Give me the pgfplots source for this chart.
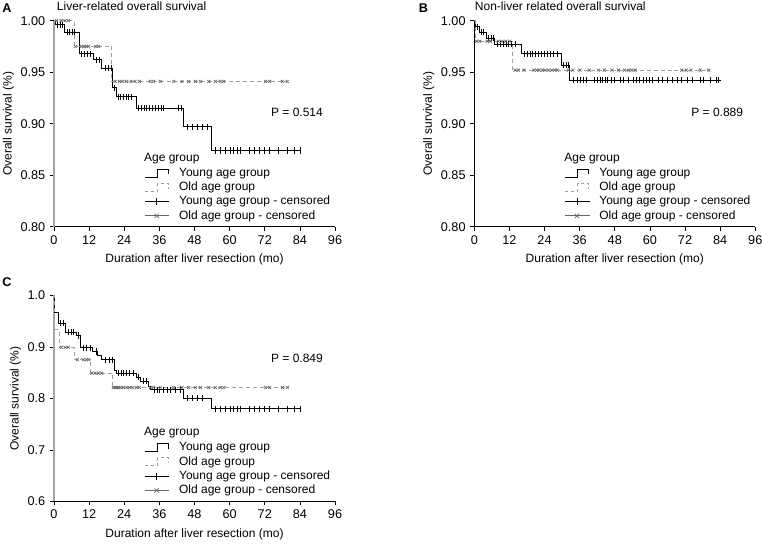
\documentclass[border=0pt]{standalone}
\usepackage{pgfplots}
\pgfplotsset{compat=1.18}
\usepackage{fontspec}
\setmainfont{Liberation Sans}

% Kaplan-Meier panels, 1px of the reference = 0.75pt
\pgfplotsset{
  km/.style={
    scale only axis, width=210.75pt, height=154.5pt,
    anchor=south west,
    axis lines*=left, axis line style={-},
    xmin=0, xmax=96, xtick={0,12,...,96},
    tick align=outside, major tick length=3pt,
    tick style={black, line width=0.5pt},
    ticklabel style={font=\fontsize{9.5}{11}\selectfont},
    /pgf/number format/assume math mode=true,
    xlabel={Duration after liver resection (mo)},
    ylabel={Overall survival (\%)},
    label style={font=\fontsize{9}{11}\selectfont},
    xlabel style={yshift=-0.5pt},
    ylabel style={yshift=-2pt},
    clip=false,
    legend style={draw=none, fill=none, inner sep=0pt, anchor=north west,
      font=\fontsize{9}{10}\selectfont,
      nodes={inner sep=0.6pt}, row sep=1.5pt,
      /tikz/every odd column/.append style={column sep=6.5pt}},
    legend cell align=left,
  },
  young/.style={const plot, black, line width=0.6pt, forget plot},
  old/.style={const plot, gray!75, line width=0.6pt, dash pattern=on 3pt off 2.2pt, forget plot},
  youngc/.style={only marks, mark=|, mark size=2.3pt, black, mark options={line width=0.5pt}, forget plot},
  oldc/.style={only marks, mark=x, mark size=1.6pt, gray!80!black, mark options={line width=0.5pt}, forget plot},
}
\newcommand{\kmlegend}{%
  \addlegendimage{legend image code/.code={\draw[black, line width=0.6pt] (0pt,-3pt) -- (9.5pt,-3pt) -- (9.5pt,3pt) -- (18pt,3pt) -- (18pt,-1pt);}}
  \addlegendimage{legend image code/.code={\draw[gray!75, line width=0.6pt, dash pattern=on 2.5pt off 2pt] (0pt,-3pt) -- (9.5pt,-3pt) -- (9.5pt,3pt) -- (18pt,3pt) -- (18pt,-1pt);}}
  \addlegendimage{legend image code/.code={\draw[black, line width=0.6pt] (0pt,0pt) -- (18.5pt,0pt); \draw[black, line width=0.5pt] (9pt,-2.5pt) -- (9pt,2.5pt);}}
  \addlegendimage{legend image code/.code={\draw[gray!80!black, line width=0.6pt] (0pt,0pt) -- (18.5pt,0pt); \draw[gray!80!black, line width=0.5pt] (7.5pt,-1.6pt) -- (10.7pt,1.6pt) (7.5pt,1.6pt) -- (10.7pt,-1.6pt);}}
  \legend{Young age group, Old age group, Young age group - censored, Old age group - censored}
}

\begin{document}
\begin{tikzpicture}
\path[use as bounding box] (0pt,0pt) rectangle (571.5pt,-407.25pt);

% ---------------- A ----------------
\begin{axis}[km, name=a, at={(40.5pt,-170pt)},
  ymin=0.80, ymax=1.00, ytick={0.80,0.85,...,1.00},
  yticklabel style={/pgf/number format/.cd, fixed, fixed zerofill, precision=2},
  y axis line style={gray!70, line width=1pt},
  legend style={at={(axis description cs:0.320,0.290)}}]
\addplot[young] coordinates {(0,1) (0.4,0.996) (3.4,0.989) (8.7,0.968) (13.4,0.962)
  (16.3,0.954) (20.0,0.935) (21.4,0.926) (28.0,0.915) (44.1,0.897) (53.9,0.874) (84.2,0.874)};
\addplot[old] coordinates {(0,1) (6.8,0.975) (19.7,0.941) (80.3,0.941)};
\addplot[youngc] coordinates {(1.1,0.996) (2.0,0.996) (2.8,0.996)
  (4.5,0.989) (5.4,0.989) (6.2,0.989) (7.1,0.989)
  (9.5,0.968) (10.4,0.968) (11.4,0.968) (12.5,0.968)
  (14.5,0.962) (15.4,0.962) (17.5,0.954) (18.6,0.954) (19.5,0.954) (20.5,0.935)
  (21.9,0.926) (22.8,0.926) (23.7,0.926) (24.6,0.926) (25.5,0.926) (26.4,0.926)
  (28.9,0.915) (29.8,0.915) (30.8,0.915) (31.7,0.915) (32.6,0.915) (33.7,0.915)
  (34.6,0.915) (35.5,0.915) (36.5,0.915) (37.4,0.915) (42.6,0.915) (43.4,0.915)
  (45.4,0.897) (47.1,0.897) (48.9,0.897) (50.6,0.897) (52.3,0.897)
  (55.1,0.874) (56.8,0.874) (58.6,0.874) (60.3,0.874) (61.4,0.874) (62.6,0.874)
  (63.7,0.874) (66.6,0.874) (68.3,0.874) (70.0,0.874) (71.7,0.874) (73.4,0.874)
  (76.8,0.874) (79.7,0.874) (82.0,0.874) (84.2,0.874)};
\addplot[oldc] coordinates {(0.9,1) (2.4,1) (3.8,1) (4.9,1)
  (7.4,0.975) (9.5,0.975) (10.3,0.975) (11.0,0.975) (11.8,0.975) (14.3,0.975) (15.2,0.975)
  (20.9,0.941) (22.4,0.941) (23.5,0.941) (24.7,0.941) (26.3,0.941) (27.7,0.941)
  (29.2,0.941) (32.9,0.941) (34.0,0.941) (36.3,0.941) (40.9,0.941) (43.7,0.941)
  (46.0,0.941) (48.3,0.941) (50.0,0.941) (52.9,0.941) (55.1,0.941) (56.8,0.941)
  (58.0,0.941) (72.3,0.941) (73.7,0.941) (78.0,0.941) (79.7,0.941)};
\node[font=\fontsize{9}{11}\selectfont] at (axis cs:83,0.911) {P = 0.514};
\node[anchor=west, inner sep=0pt, font=\fontsize{9}{11}\selectfont] at (axis cs:30.7,0.8657) {Age group};
\kmlegend
\end{axis}

% ---------------- B ----------------
\begin{axis}[km, name=b, at={(355.7pt,-170pt)},
  ymin=0.80, ymax=1.00, ytick={0.80,0.85,...,1.00},
  yticklabel style={/pgf/number format/.cd, fixed, fixed zerofill, precision=2},
  legend style={at={(axis description cs:0.320,0.290)}}]
\addplot[young] coordinates {(0,1) (0.5,0.994) (1.7,0.989) (4.0,0.983) (7.0,0.977)
  (16.0,0.968) (29.8,0.957) (32.6,0.942) (84.3,0.942)};
\addplot[old] coordinates {(0,1) (0.3,0.980) (13.1,0.952) (80.4,0.952)};
\addplot[youngc] coordinates {(1.1,0.994) (2.5,0.989) (3.2,0.989)
  (4.8,0.983) (5.7,0.983) (6.5,0.983)
  (7.8,0.977) (8.8,0.977) (9.8,0.977) (10.8,0.977) (11.8,0.977) (12.8,0.977) (14.0,0.977)
  (17,0.968) (18,0.968) (19,0.968) (20,0.968) (21,0.968) (22,0.968) (23,0.968)
  (24,0.968) (25,0.968) (26,0.968) (27,0.968) (28.5,0.968)
  (30.5,0.957) (31.3,0.957) (32.0,0.957)
  (34.0,0.942) (35.2,0.942) (36.3,0.942) (37.4,0.942) (38.4,0.942) (40.9,0.942)
  (42.1,0.942) (43.0,0.942) (43.9,0.942) (44.8,0.942) (45.5,0.942) (46.7,0.942)
  (47.8,0.942) (49.9,0.942) (51.0,0.942) (52.7,0.942) (54.2,0.942) (55.3,0.942)
  (56.5,0.942) (57.6,0.942) (58.8,0.942) (59.9,0.942) (61.0,0.942) (63.0,0.942)
  (64.1,0.942) (65.8,0.942) (67.5,0.942) (69.5,0.942) (70.6,0.942) (72.8,0.942)
  (74.4,0.942) (77.2,0.942) (78.4,0.942) (80.6,0.942) (82.7,0.942) (83.5,0.942)};
\addplot[oldc] coordinates {(0.8,0.980) (1.9,0.980) (4.4,0.980) (5.4,0.980)
  (8.2,0.980) (9.4,0.980) (10.8,0.980) (12.2,0.980)
  (13.9,0.952) (15.1,0.952) (17.0,0.952) (20.4,0.952) (21.3,0.952) (22.2,0.952)
  (23.3,0.952) (24.2,0.952) (25.3,0.952) (26.5,0.952) (27.6,0.952) (28.4,0.952)
  (32.2,0.952) (33.6,0.952) (36.1,0.952) (39.3,0.952) (42.4,0.952) (44.4,0.952)
  (47.0,0.952) (49.3,0.952) (51.3,0.952) (52.7,0.952) (53.8,0.952) (55.0,0.952)
  (70.9,0.952) (72.4,0.952) (74.0,0.952) (77.2,0.952) (80.0,0.952)};
\node[font=\fontsize{9}{11}\selectfont] at (axis cs:83,0.911) {P = 0.889};
\node[anchor=west, inner sep=0pt, font=\fontsize{9}{11}\selectfont] at (axis cs:30.7,0.8657) {Age group};
\kmlegend
\end{axis}

% ---------------- C ----------------
\begin{axis}[km, name=c, at={(40.5pt,-376pt)},
  ymin=0.6, ymax=1.0, ytick={0.6,0.7,...,1.0},
  yticklabel style={/pgf/number format/.cd, fixed, fixed zerofill, precision=1},
  y axis line style={gray!70, line width=1pt},
  legend style={at={(axis description cs:0.320,0.290)}}]
\addplot[young] coordinates {(0,1) (0.3,0.967) (1.5,0.946) (3.8,0.928) (7.5,0.922)
  (9.1,0.898) (13.2,0.891) (14.9,0.883) (16.3,0.875) (20.8,0.855) (21.4,0.849)
  (28.0,0.841) (29.4,0.833) (32.2,0.823) (32.8,0.817) (44.1,0.800) (53.7,0.780) (84.2,0.780)};
\addplot[old] coordinates {(0,1) (0.3,0.933) (1.8,0.899) (6.8,0.875) (12.6,0.849)
  (20.0,0.821) (80.3,0.821)};
\addplot[youngc] coordinates {(2.3,0.946) (3.2,0.946) (5.0,0.928) (5.8,0.928) (6.7,0.928)
  (8.3,0.922) (10.0,0.898) (11.2,0.898) (12.3,0.898) (14.3,0.891)
  (17.4,0.875) (18.9,0.875) (20.0,0.875)
  (21.9,0.849) (23.0,0.849) (23.8,0.849) (24.7,0.849) (25.9,0.849) (27.0,0.849)
  (28.8,0.841) (30.5,0.833) (31.7,0.833)
  (34.2,0.817) (35.2,0.817) (36.1,0.817) (37.4,0.817) (38.6,0.817) (39.7,0.817)
  (41.4,0.817) (43.2,0.817)
  (45.4,0.800) (47.1,0.800) (48.9,0.800) (50.6,0.800)
  (55.1,0.780) (56.8,0.780) (58.6,0.780) (60.3,0.780) (61.4,0.780) (62.6,0.780)
  (63.7,0.780) (66.6,0.780) (68.3,0.780) (70.0,0.780) (71.7,0.780) (73.4,0.780)
  (76.8,0.780) (79.7,0.780) (82.0,0.780) (84.2,0.780)};
\addplot[oldc] coordinates {(2.6,0.899) (3.8,0.899) (4.9,0.899)
  (8.0,0.875) (10.0,0.875) (11.0,0.875) (11.8,0.875)
  (12.9,0.849) (14.0,0.849) (15.2,0.849) (16.3,0.849)
  (20.3,0.821) (20.9,0.821) (21.5,0.821) (22.0,0.821) (22.6,0.821) (23.7,0.821)
  (24.9,0.821) (25.8,0.821) (26.9,0.821) (28.1,0.821) (29.2,0.821) (32.9,0.821)
  (34.0,0.821) (36.3,0.821) (40.9,0.821) (43.7,0.821) (46.0,0.821) (48.3,0.821)
  (50.0,0.821) (52.9,0.821) (55.1,0.821) (56.8,0.821) (58.0,0.821) (72.3,0.821)
  (73.7,0.821) (78.0,0.821) (79.7,0.821)};
\node[font=\fontsize{9}{11}\selectfont] at (axis cs:83,0.877) {P = 0.849};
\node[anchor=west, inner sep=0pt, font=\fontsize{9}{11}\selectfont] at (axis cs:30.7,0.733) {Age group};
\kmlegend
\end{axis}

% panel letters and titles
\node[anchor=west, inner sep=0pt, font=\bfseries\fontsize{9.5}{11}\selectfont] at (1.5pt,-6pt) {A};
\node[anchor=west, inner sep=0pt, font=\fontsize{9}{11}\selectfont] at (42.5pt,-5pt) {Liver-related overall survival};
\node[anchor=west, inner sep=0pt, font=\bfseries\fontsize{9.5}{11}\selectfont] at (314pt,-6pt) {B};
\node[anchor=west, inner sep=0pt, font=\fontsize{9}{11}\selectfont] at (356pt,-5pt) {Non-liver related overall survival};
\node[anchor=west, inner sep=0pt, font=\bfseries\fontsize{9.5}{11}\selectfont] at (1.5pt,-211.5pt) {C};
\end{tikzpicture}
\end{document}
